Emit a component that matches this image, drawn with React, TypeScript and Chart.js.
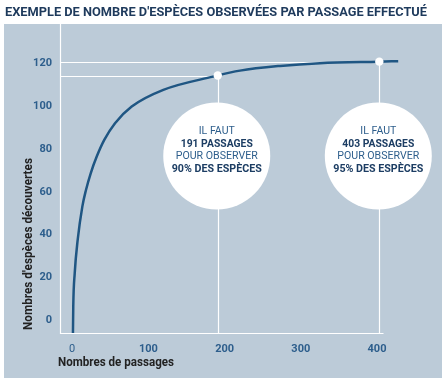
import React, { useEffect, useRef } from "react";
import { Chart, registerables } from "chart.js";

Chart.register(...registerables);

// ---- data ----
const passages = [1, 1.4, 3.3, 7.2, 13.3, 18.1, 24.3, 32.2, 42.1, 56.2, 78.1, 119.6, 184.8, 220.2, 272.7, 325.2, 401.3, 427.8];
const especes = [-6, 6.3, 21.9, 37.5, 53.1, 60.9, 68.7, 76.5, 84.3, 92.1, 99.9, 107.7, 113.9, 116.7, 118.9, 120.2, 120.9, 121.1];
const xTicks = [0, 100, 200, 300, 400];
const yTicks = [0, 20, 40, 60, 80, 100, 120];
const seuilPassages = [191, 403];
const seuilEspeces = [114.4, 120.9];
const seuilPourcent = [90, 95];
const titre = "EXEMPLE DE NOMBRE D'ESPÈCES OBSERVÉES PAR PASSAGE EFFECTUÉ";
const titreX = "Nombres de passages";
const titreY = "Nombres d'espèces découvertes";

// ---- styles ----
const PANEL = "#bccbd8";
const CURVE = "#1f5683";
const TICK = "#2d5e8c";
const NAVY = "#1c3d63";
const TITLE = "#1e3a5c";
const FONT = "Roboto, 'DejaVu Sans', sans-serif";

function fitText(ctx: CanvasRenderingContext2D, text: string, x: number, y: number, scaleX: number) {
  ctx.save();
  ctx.translate(x, y);
  ctx.scale(scaleX, 1);
  ctx.fillText(text, 0, 0);
  ctx.restore();
}

const deco = {
  id: "deco",
  beforeDraw(chart: any) {
    const ctx: CanvasRenderingContext2D = chart.ctx;
    ctx.save();
    ctx.fillStyle = "#ffffff";
    ctx.fillRect(0, 0, chart.width, chart.height);
    ctx.fillStyle = PANEL;
    ctx.fillRect(4, 24, 438, 354);
    // title
    ctx.font = `bold 13px ${FONT}`;
    ctx.fillStyle = TITLE;
    ctx.textBaseline = "alphabetic";
    ctx.textAlign = "left";
    const w = ctx.measureText(titre).width;
    fitText(ctx, titre, 5, 15.5, 422 / w);
    ctx.restore();
  },
  beforeDatasetsDraw(chart: any) {
    const ctx: CanvasRenderingContext2D = chart.ctx;
    const a = chart.chartArea;
    const x = chart.scales.x;
    const y = chart.scales.y;
    ctx.save();
    ctx.strokeStyle = "#ffffff";
    ctx.lineWidth = 1.2;
    ctx.beginPath();
    const L = Math.round(a.left) + 0.5;
    const B = Math.round(a.bottom) + 0.5;
    ctx.moveTo(L, a.top);
    ctx.lineTo(L, B);
    ctx.lineTo(L + 323, B);
    seuilPassages.forEach((p, i) => {
      const px = Math.round(x.getPixelForValue(p)) + 0.5;
      const py = Math.round(y.getPixelForValue(seuilEspeces[i])) + 0.5;
      ctx.moveTo(L, py);
      ctx.lineTo(px, py);
      ctx.moveTo(px, py);
      ctx.lineTo(px, B);
    });
    ctx.stroke();

    // axis titles
    ctx.fillStyle = "#222222";
    ctx.font = `bold 12px ${FONT}`;
    ctx.textAlign = "left";
    ctx.textBaseline = "alphabetic";
    const wx = ctx.measureText(titreX).width;
    fitText(ctx, titreX, 58, 366, 116 / wx);
    const wy = ctx.measureText(titreY).width;
    ctx.save();
    ctx.translate(31.5, 330);
    ctx.rotate(-Math.PI / 2);
    fitText(ctx, titreY, 0, 0, 172 / wy);
    ctx.restore();
    ctx.restore();
  },
  afterDatasetsDraw(chart: any) {
    const ctx: CanvasRenderingContext2D = chart.ctx;
    const x = chart.scales.x;
    const y = chart.scales.y;
    ctx.save();
    seuilPassages.forEach((p, i) => {
      const px = x.getPixelForValue(p);
      const py = y.getPixelForValue(seuilEspeces[i]);
      const cy = 156;
      ctx.fillStyle = "#ffffff";
      ctx.beginPath();
      ctx.arc(px - 1, cy, 53.5, 0, Math.PI * 2);
      ctx.fill();
      ctx.beginPath();
      ctx.arc(px, py, 4.2, 0, Math.PI * 2);
      ctx.fill();

      const lines = [
        { t: "IL FAUT", bold: false, dy: -24.5, w: 36 },
        { t: `${p} PASSAGES`, bold: true, dy: -12, w: 72 },
        { t: "POUR OBSERVER", bold: false, dy: 0.5, w: 82 },
        { t: `${seuilPourcent[i]}% DES ESPÈCES`, bold: true, dy: 13.5, w: 90 },
      ];
      ctx.textAlign = "center";
      ctx.textBaseline = "middle";
      lines.forEach((l) => {
        ctx.font = `${l.bold ? "bold " : ""}11px ${FONT}`;
        ctx.fillStyle = l.bold ? NAVY : TICK;
        const m = ctx.measureText(l.t).width;
        fitText(ctx, l.t, px - 1, cy + l.dy, l.w / m);
      });
    });
    ctx.restore();
  },
};

export default function App() {
  const ref = useRef<HTMLCanvasElement | null>(null);
  useEffect(() => {
    if (!ref.current) return;
    const chart = new Chart(ref.current, {
      type: "line",
      data: {
        datasets: [
          {
            data: passages.map((p, i) => ({ x: p, y: especes[i] })),
            borderColor: CURVE,
            borderWidth: 2.5,
            cubicInterpolationMode: "monotone",
            pointRadius: 0,
            fill: false,
          },
        ],
      },
      options: {
        animation: false,
        responsive: false,
        devicePixelRatio: 1,
        layout: { padding: { left: 4, top: 24, right: 37.5, bottom: 0 } },
        plugins: { legend: { display: false }, tooltip: { enabled: false } },
        scales: {
          x: {
            type: "linear",
            min: -16,
            max: 440,
            grid: { display: false, drawTicks: false },
            border: { display: false },
            afterBuildTicks: (s: any) => {
              s.ticks = xTicks.map((v) => ({ value: v }));
            },
            afterFit: (s: any) => {
              s.height = 48;
            },
            ticks: {
              padding: 10,
              color: TICK,
              maxRotation: 0,
              autoSkip: false,
              font: (c: any) => ({
                family: FONT,
                size: 11,
                weight: c.tick && c.tick.value === 0 ? "normal" : "bold",
              }),
            },
          },
          y: {
            type: "linear",
            min: -6,
            max: 138.5,
            grid: { display: false, drawTicks: false },
            border: { display: false },
            afterBuildTicks: (s: any) => {
              s.ticks = yTicks.map((v) => ({ value: v }));
            },
            afterFit: (s: any) => {
              s.width = 56;
            },
            ticks: {
              padding: 8,
              color: TICK,
              autoSkip: false,
              font: { family: FONT, size: 11, weight: "bold" },
            },
          },
        },
      } as any,
      plugins: [deco],
    });
    return () => chart.destroy();
  }, []);
  return (
    <div style={{ position: "absolute", left: 0, top: 0, width: 445, height: 381 }}>
      <canvas ref={ref} width={445} height={381} style={{ display: "block" }} />
    </div>
  );
}
